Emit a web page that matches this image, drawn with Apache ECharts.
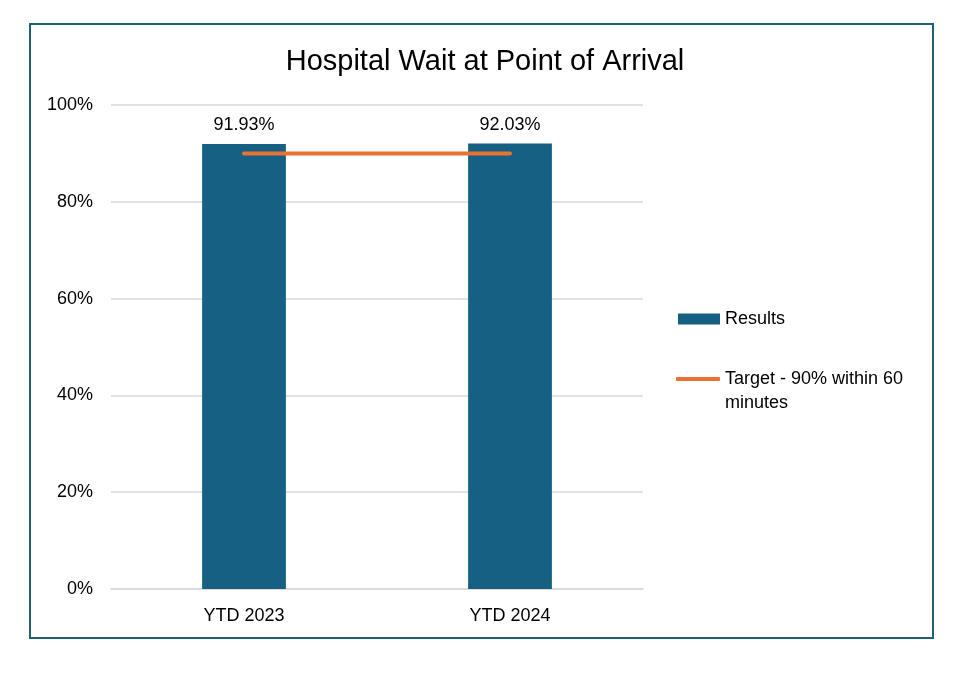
<!DOCTYPE html>
<html><head><meta charset="utf-8">
<script src="https://cdn.jsdelivr.net/npm/echarts@6/dist/echarts.min.js"></script>
<style>html,body{margin:0;padding:0;background:#fff}#c{width:970px;height:673px}</style>
</head><body><div id="c"></div>
<script>
const categories = ['YTD 2023', 'YTD 2024'];
const results = [91.93, 92.03];
const target = [90, 90];
const yTicks = [0, 20, 40, 60, 80, 100];
const titleText = 'Hospital Wait at Point of Arrival';
const resultsName = 'Results';
const targetName = 'Target - 90% within 60 minutes';

const font = 'Liberation Sans, Arial, sans-serif';
const chart = echarts.init(document.getElementById('c'));
chart.setOption({
  backgroundColor: '#fff',
  animation: false,
  title: {text: titleText, left: 'center', top: 42, textStyle: {fontFamily: font, fontSize: 29, fontWeight: 'normal', color: '#000'}},
  graphic: [{type: 'rect', shape: {x: 30, y: 24, width: 903, height: 614}, style: {fill: 'none', stroke: '#215f73', lineWidth: 2}}],
  grid: {left: 111, right: 327, top: 105, bottom: 84},
  legend: [
    {data: [resultsName], orient: 'vertical', left: 678, top: 310, padding: 0, icon: 'rect', itemWidth: 42, itemHeight: 11, itemGap: 0,
     textStyle: {fontFamily: font, fontSize: 18, color: '#000'}},
    {data: [targetName], orient: 'vertical', left: 676, top: 343, padding: 0, icon: 'roundRect', itemWidth: 44, itemHeight: 4, itemGap: 0,
     itemStyle: {color: '#e97132'},
     formatter: function(n){ return '\nTarget - 90% within 60\nminutes'; },
     textStyle: {fontFamily: font, fontSize: 18, color: '#000', lineHeight: 24}}
  ],
  xAxis: {type: 'category', data: categories,
    axisLine: {lineStyle: {color: '#d9d9d9', width: 1.5}}, axisTick: {show: false},
    axisLabel: {fontFamily: font, fontSize: 18, color: '#000', margin: 18}},
  yAxis: {type: 'value', min: 0, max: 100, interval: 20,
    axisLine: {show: false}, axisTick: {show: false},
    splitLine: {lineStyle: {color: '#d9d9d9', width: 1.5}},
    axisLabel: {fontFamily: font, fontSize: 18, color: '#000', margin: 18,
      formatter: function(v){ return yTicks.indexOf(v) >= 0 ? v + '%' : ''; }}},
  series: [
    {name: resultsName, type: 'bar', data: results, barWidth: '31.5%', itemStyle: {color: '#166083'},
     label: {show: true, position: 'top', distance: 10, fontFamily: font, fontSize: 18, color: '#000',
       formatter: function(p){ return p.value.toFixed(2) + '%'; }}},
    {name: targetName, type: 'line', data: target, symbol: 'none', z: 5,
     lineStyle: {color: '#e97132', width: 4, cap: 'round'}, itemStyle: {color: '#e97132'}}
  ]
});
</script></body></html>
